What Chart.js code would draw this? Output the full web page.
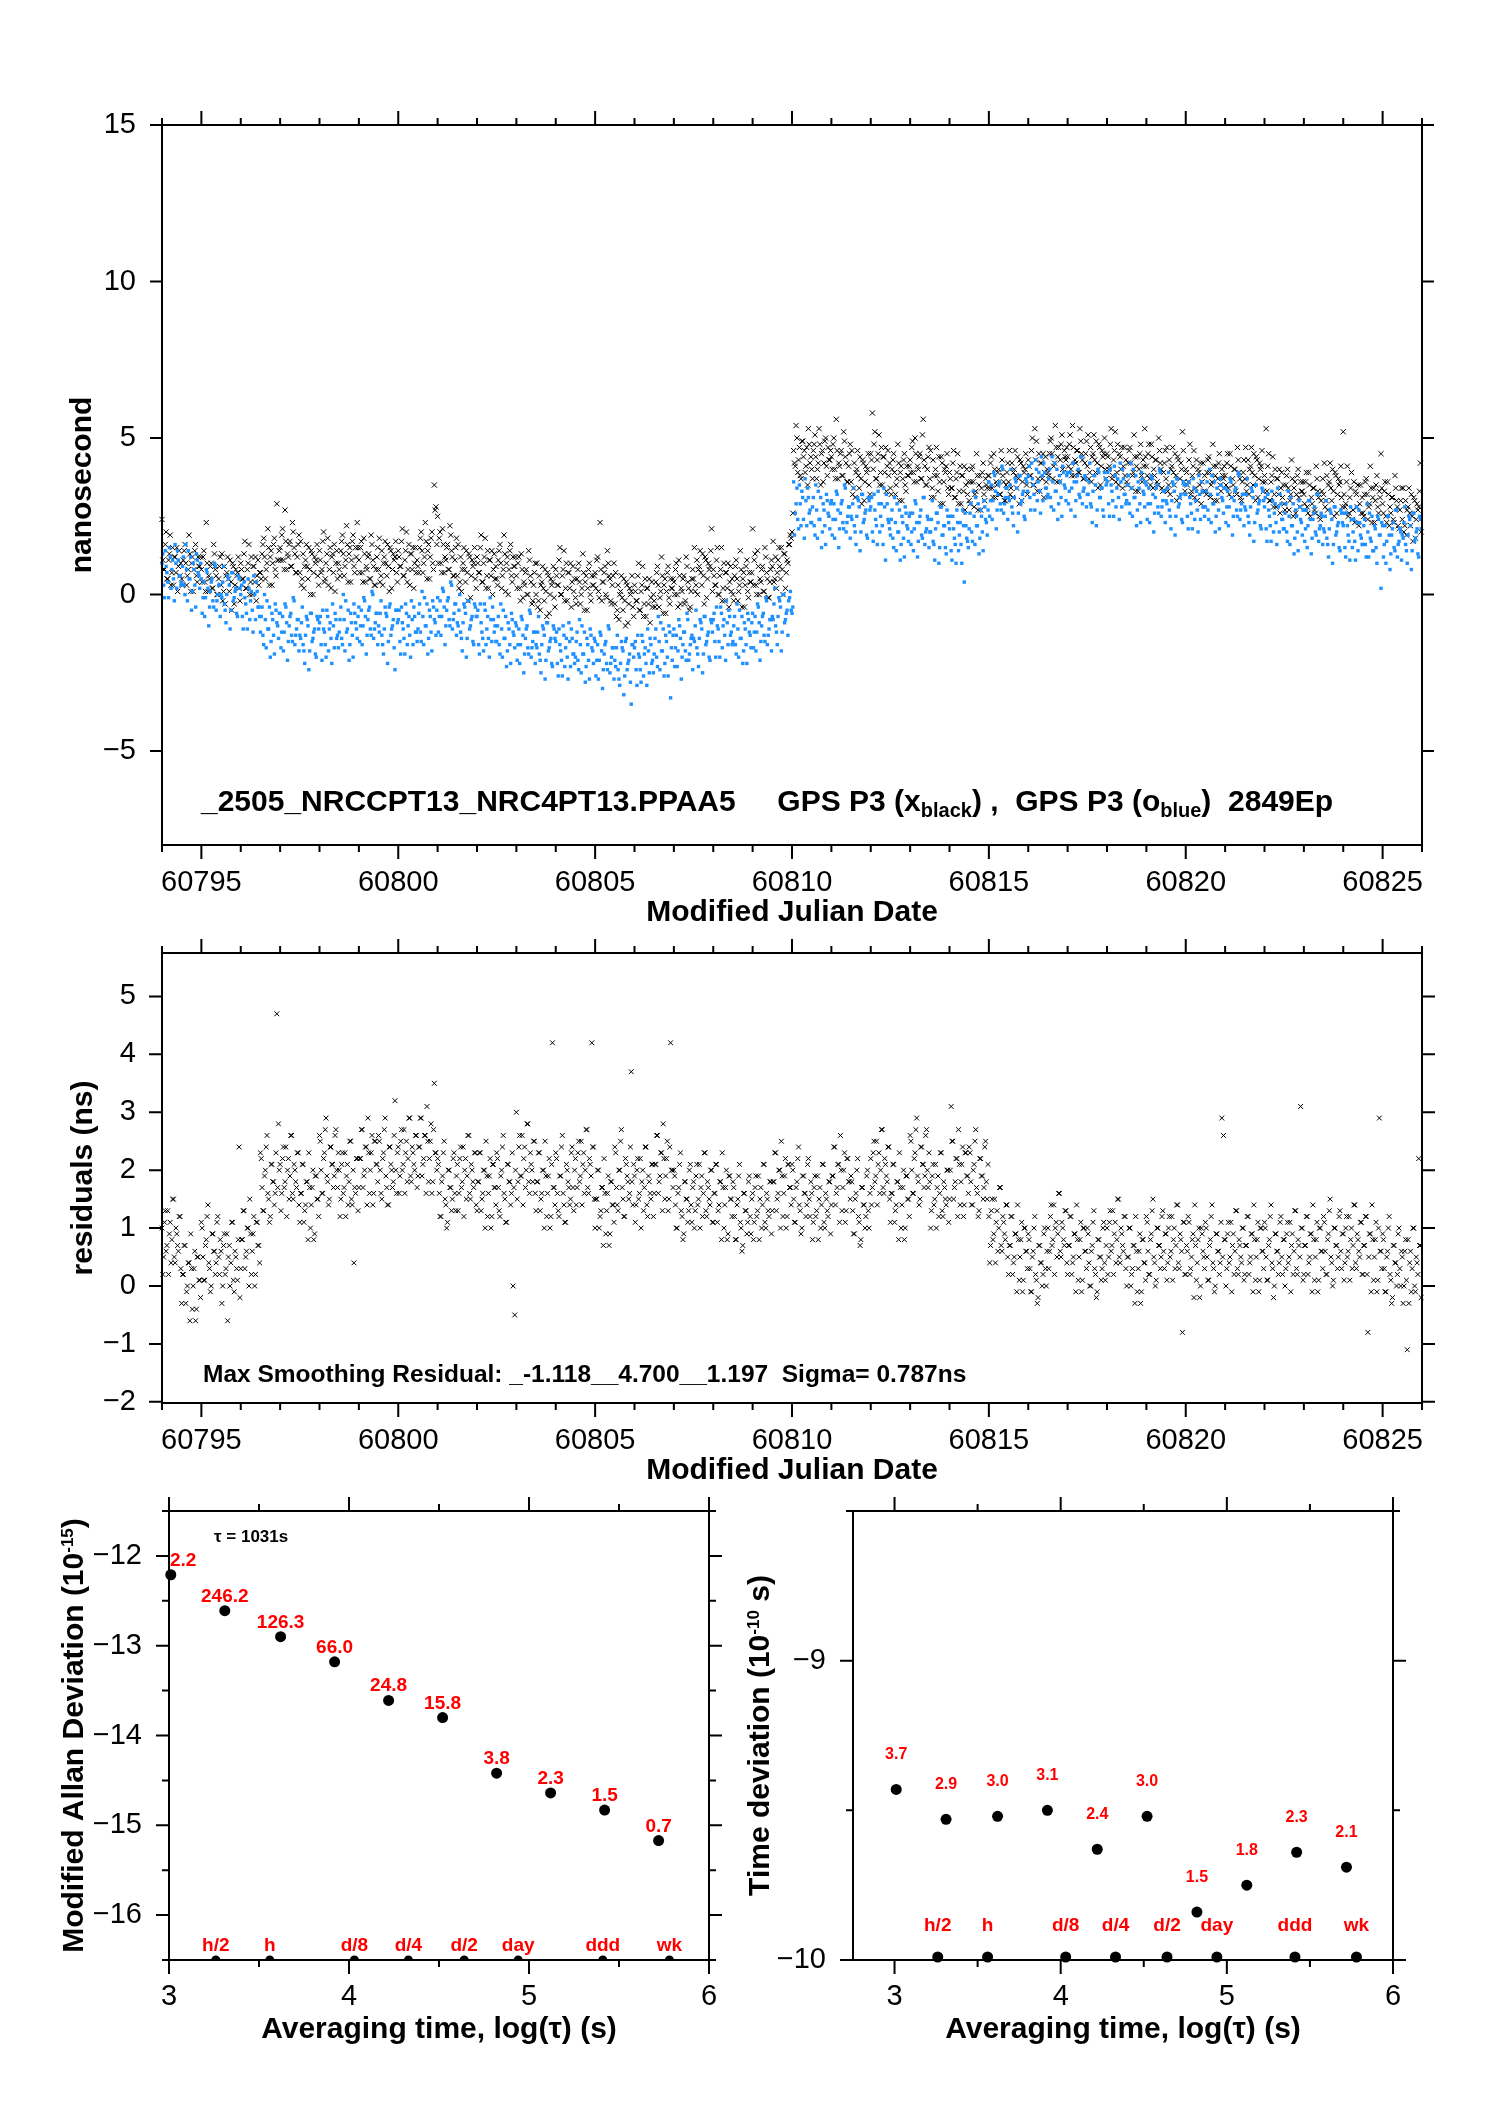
<!DOCTYPE html>
<html><head><meta charset="utf-8">
<script src="https://cdn.jsdelivr.net/npm/chart.js@4.4.1/dist/chart.umd.min.js"></script>
<style>
html,body{margin:0;padding:0;background:#fff;}
body{width:1488px;height:2105px;position:relative;overflow:hidden;}
canvas{position:absolute;}
</style></head><body>
<canvas id="c1" width="1488" height="945" style="left:0px;top:0px"></canvas>
<canvas id="c2" width="1488" height="580" style="left:0px;top:925px"></canvas>
<canvas id="c3" width="744" height="615" style="left:0px;top:1490px"></canvas>
<canvas id="c4" width="768" height="615" style="left:720px;top:1490px"></canvas>
<script>
const FONT = "'Liberation Sans', Arial, Helvetica, sans-serif";
Chart.defaults.font.family = FONT;
Chart.defaults.color = '#000';
Chart.defaults.animation = false;

// ---- epochs: hourly samples (A) and the half-hour samples in between (B) ----
const T0 = 60794, STEP = 1 / 24;

// ---- top panel: GPS P3 black (x), on-the-hour epochs ----
const blkNs = [
2.4,0.8,1.6,0.5,1.1,1.9,0.7,0.3,1.2,1.5,0.9,0.6, 0.5,1.1,1.6,0.3,0.8,1.3,1.0,0.1,1.4,0.6,1.2,0.9,
0.8,1.2,0.4,2.3,0.1,0.5,1.0,0.2,1.3,0.6,0.0,0.9, 0.3,-0.2,0.9,0.6,1.2,0.1,0.4,1.0,-0.3,0.8,0.7,0.2,
1.0,0.5,1.3,0.2,0.8,1.6,0.4,0.0,0.9,1.2,0.6,0.3, 0.7,1.3,1.8,0.5,1.0,1.5,1.2,0.3,1.6,0.8,2.9,1.1,
1.5,1.9,1.1,2.7,0.8,1.2,1.7,0.9,2.0,1.3,0.7,1.6, 0.7,0.3,1.3,0.9,1.6,0.5,0.8,1.4,0.0,1.2,1.1,0.6,
1.4,0.7,1.7,0.4,1.0,1.8,0.8,0.2,1.3,1.6,1.0,0.5, 0.8,1.4,1.9,0.6,1.1,1.6,1.3,0.4,1.7,0.9,1.5,2.3,
1.1,1.5,0.7,1.8,0.4,0.8,1.3,0.5,1.6,0.9,0.3,1.2, 0.8,0.4,1.4,1.0,1.7,0.6,0.9,1.5,0.2,1.3,1.2,0.7,
1.4,0.9,1.7,0.6,1.1,2.0,0.8,0.3,1.3,1.5,1.0,0.7, 0.9,1.5,2.0,0.7,1.2,1.7,1.4,0.5,1.8,1.0,3.5,2.8,
2.5,1.8,1.0,2.1,0.7,1.1,1.6,0.8,1.9,1.2,0.6,1.5, 0.6,0.2,1.2,0.8,1.5,0.4,0.7,1.3,-0.1,1.1,1.0,0.5,
1.2,0.7,1.5,0.4,1.0,1.8,0.6,0.2,1.1,1.4,0.8,0.5, 0.5,1.1,1.6,0.2,0.8,1.3,1.0,0.0,1.4,0.6,1.2,0.9,
0.6,1.0,0.2,1.3,-0.1,0.3,0.8,0.0,1.1,0.4,-0.2,0.7, 0.0,-0.4,0.6,0.3,0.9,-0.2,0.1,0.7,-0.6,0.5,0.4,-0.1,
0.8,0.3,1.1,0.0,0.6,1.4,0.2,-0.2,0.7,1.0,0.4,0.1, -0.1,0.5,1.0,-0.3,0.2,0.7,0.4,-0.5,0.8,0.0,0.6,0.3,
0.7,1.1,0.1,2.3,-0.2,0.4,0.9,-0.1,1.0,0.5,-0.3,0.6, -0.3,-0.7,0.3,0.0,0.6,-0.5,-0.2,0.4,-0.9,0.2,0.1,-0.4,
0.3,-0.2,0.6,-0.5,0.1,0.9,-0.3,-0.7,0.2,0.5,-0.1,-0.4, -0.2,0.4,0.9,-0.4,0.1,0.6,0.3,-0.6,0.7,-0.1,0.5,0.2,
0.4,0.8,0.0,1.1,-0.3,0.1,0.6,-0.2,0.9,0.2,-0.4,0.5, 0.5,0.1,1.1,0.8,1.4,0.3,0.6,1.2,-0.1,1.0,0.9,2.1,
0.8,0.3,1.1,0.0,0.6,1.5,0.2,-0.2,0.7,1.0,0.4,0.1, 0.0,0.6,1.1,-0.2,0.3,0.8,0.5,-0.4,0.9,0.1,0.7,0.4,
2.1,1.1,0.3,1.4,0.0,0.4,0.9,0.1,1.2,0.5,-0.1,0.8, 0.9,0.4,1.2,0.7,1.5,0.5,0.8,1.3,0.2,1.1,1.6,1.9,
2.0,4.6,4.1,5.0,4.3,3.8,4.9,4.4,3.9,4.7,5.3,4.2, 4.0,4.6,5.1,3.7,4.2,4.8,4.5,3.6,4.9,4.1,4.7,4.3,
4.4,4.8,4.0,5.6,3.7,4.1,4.6,3.8,4.9,4.2,3.6,4.5, 3.6,3.2,4.2,3.9,4.6,3.4,3.7,4.3,3.0,4.1,4.0,3.5,
4.5,5.8,4.8,3.7,4.3,5.1,3.9,3.5,4.4,4.7,4.1,3.8, 3.4,4.0,4.5,3.2,3.7,4.2,3.9,3.0,4.3,3.5,4.1,3.8,
4.3,4.7,3.9,5.0,3.6,4.0,4.5,3.7,5.6,4.1,3.5,4.4, 3.7,3.1,4.3,3.8,4.7,3.3,3.6,4.4,2.9,4.0,4.1,3.4,
3.9,3.4,4.2,3.1,3.7,4.5,3.3,2.9,3.8,4.1,3.5,3.2, 3.0,3.6,4.1,2.8,3.3,3.8,3.5,2.7,3.9,3.2,3.7,3.4,
3.8,4.2,3.4,4.5,3.1,3.5,4.0,3.2,4.3,3.6,3.0,3.9, 3.6,3.2,4.2,3.9,4.6,3.4,3.7,4.3,3.0,4.1,4.0,3.5,
4.3,3.8,4.6,3.5,5.3,4.9,3.7,3.3,4.2,4.5,3.9,3.6, 3.9,4.5,5.0,3.7,4.2,4.7,4.4,3.6,4.8,4.0,4.6,4.3,
4.4,4.8,4.0,5.4,3.8,4.2,4.6,3.9,4.9,4.3,3.7,4.5, 4.1,3.7,4.7,4.4,5.1,3.9,4.2,4.8,3.5,4.6,4.5,4.0,
4.5,4.0,4.8,3.7,4.3,5.2,3.9,3.5,4.4,4.7,4.1,3.8, 3.6,4.2,4.7,3.4,3.9,4.4,4.1,3.3,4.5,3.8,4.3,5.3,
4.1,4.5,3.7,4.8,3.4,3.8,4.3,3.5,4.6,4.0,3.3,4.2, 3.7,3.3,4.3,4.0,4.7,3.5,3.8,4.4,3.1,4.2,5.2,3.6,
4.0,3.5,4.3,3.2,3.8,4.6,3.4,3.0,3.9,4.2,3.6,3.3, 3.3,3.9,4.4,3.1,3.6,4.1,3.8,3.0,4.2,3.5,4.0,3.7,
3.8,4.2,3.4,4.5,3.1,3.5,4.0,3.2,4.3,3.7,3.0,3.9, 3.7,3.3,4.3,4.0,4.7,3.5,3.8,4.4,3.1,4.2,4.1,3.6,
3.8,5.3,4.1,3.0,3.6,4.4,3.2,2.8,3.7,4.0,3.4,3.1, 2.9,3.5,4.0,2.7,3.2,3.7,3.4,2.6,3.8,3.1,3.6,3.3,
3.2,3.6,2.8,3.9,2.5,2.9,3.4,2.6,3.7,3.1,2.4,3.3, 3.2,2.8,3.8,3.5,4.2,3.0,3.3,3.9,2.6,3.7,3.6,3.1,
5.2,2.8,3.6,2.5,3.1,3.9,2.7,2.3,3.2,3.5,2.9,2.6, 2.6,3.2,3.7,2.4,2.9,3.4,3.1,2.3,3.5,2.8,3.3,4.5,
2.9,3.3,2.5,3.6,2.2,2.6,3.1,2.3,3.4,2.8,2.1,3.0, 2.4,2.0,3.0,2.7,3.4,2.2,2.5,3.1,1.8,2.9,2.8,4.2
];
// ---- top panel: GPS P3 black (x), half-hour epochs ----
const blkNsB = [
1.1,0.8,2.0,0.5,1.3,0.3,1.5,1.2,0.7,0.1,1.4,1.0, 0.3,1.4,1.0,0.6,1.9,0.1,1.2,0.8,1.6,0.4,0.9,1.2,
0.4,1.4,0.1,1.0,0.6,0.9,0.2,1.6,0.8,0.0,0.5,1.2, 1.3,0.1,-0.3,0.7,0.5,1.1,-0.5,0.9,0.3,0.6,1.2,-0.2,
0.8,0.5,1.7,0.2,1.0,0.0,1.2,0.9,0.4,-0.2,1.1,0.7, 0.5,1.6,1.2,0.8,2.1,0.3,1.4,1.0,1.8,0.6,1.1,1.4,
1.1,2.1,0.8,1.7,1.3,1.6,0.9,2.3,1.5,0.7,1.2,1.9, 1.7,0.5,0.2,1.1,0.9,1.5,0.0,1.3,0.7,1.0,1.6,0.3,
1.1,0.8,2.0,0.5,1.3,0.3,1.5,1.2,0.7,0.1,1.4,1.0, 0.6,1.7,1.3,0.9,2.2,0.4,1.5,1.1,1.9,0.7,1.2,1.5,
0.7,1.7,0.4,1.3,0.9,1.2,0.5,1.9,1.1,0.3,0.8,1.5, 1.8,0.6,0.3,1.2,1.0,1.6,0.1,1.4,0.8,1.1,1.7,0.4,
1.2,0.9,2.1,0.6,1.4,0.4,1.6,1.3,0.8,0.2,1.5,1.1, 0.7,1.8,1.4,1.0,2.3,0.5,1.6,1.2,2.0,0.8,2.7,1.6,
1.0,2.0,0.7,1.6,1.2,1.5,0.8,2.2,1.4,0.6,1.1,1.8, 1.6,0.4,0.1,1.0,0.8,1.4,-0.2,1.2,0.6,0.9,1.5,0.2,
1.0,0.7,1.9,0.4,1.2,0.2,1.4,1.1,0.6,0.0,1.3,0.9, 0.3,1.4,1.0,0.6,1.9,0.1,1.2,0.8,1.6,0.4,0.9,1.2,
0.2,1.2,-0.2,0.8,0.4,0.7,0.0,1.4,0.6,-0.3,0.3,1.0, 1.0,-0.2,-0.5,0.4,0.2,0.8,-0.7,0.6,0.0,0.3,0.9,-0.4,
0.6,0.3,1.5,0.0,0.8,-0.2,1.0,0.7,0.2,-0.4,0.9,0.5, -0.3,0.8,0.4,0.0,1.3,-0.5,0.6,0.2,1.0,-0.2,0.3,0.6,
0.2,1.2,-0.1,0.8,0.4,0.7,0.0,1.4,0.6,-0.2,0.3,1.0, 0.7,-0.5,-0.8,0.1,-0.1,0.5,-1.0,0.3,-0.3,0.0,0.6,-0.7,
0.1,-0.2,1.0,-0.5,0.3,-0.7,0.5,0.2,-0.3,-0.9,0.4,0.0, -0.4,0.7,0.3,-0.1,1.2,-0.6,0.5,0.1,0.9,-0.3,0.2,0.5,
0.0,1.0,-0.4,0.6,0.2,0.5,-0.3,1.2,0.4,-0.5,0.1,0.8, 1.5,0.3,0.0,0.9,0.7,1.3,-0.3,1.1,0.5,0.8,1.4,0.1,
0.6,0.3,1.5,0.0,0.8,-0.2,1.0,0.7,0.2,-0.4,0.9,0.5, -0.2,0.9,0.5,0.1,1.4,-0.4,0.7,0.3,1.1,-0.1,0.4,0.7,
0.3,1.3,0.0,0.9,0.5,0.8,0.1,1.5,0.7,-0.1,0.4,1.1, 1.7,0.5,0.2,1.1,0.9,1.5,0.0,1.3,0.7,1.0,1.6,1.8,
2.6,4.2,5.4,3.9,4.7,3.7,4.9,4.6,4.1,3.5,4.8,4.4, 3.7,4.8,4.4,4.0,5.3,3.5,4.6,4.2,5.0,3.8,4.3,4.6,
4.0,5.0,3.7,4.6,4.2,4.5,3.8,5.2,4.4,3.6,4.1,4.8, 4.6,3.4,3.1,4.0,3.8,4.4,2.9,4.2,3.6,3.9,4.5,3.2,
4.3,4.0,5.2,3.7,4.5,3.5,4.7,4.4,3.9,3.3,4.6,4.2, 3.2,4.3,3.9,3.5,4.8,3.0,4.1,3.7,4.5,3.3,3.8,4.1,
3.9,4.9,3.6,4.5,4.1,4.4,3.7,5.1,4.3,3.5,4.0,4.7, 4.6,3.4,3.1,4.0,3.8,4.4,2.9,4.2,3.6,3.9,4.5,3.2,
3.7,3.4,4.6,3.1,3.9,2.9,4.1,3.8,3.3,2.7,4.0,3.6, 2.9,4.0,3.6,3.2,4.5,2.7,3.8,3.4,4.2,3.0,3.5,3.8,
3.4,4.4,3.1,4.0,3.6,3.9,3.2,4.6,3.8,3.0,3.5,4.2, 4.6,3.4,3.1,4.0,3.8,4.4,2.9,4.2,3.6,3.9,4.5,3.2,
4.1,3.8,5.0,3.5,4.3,3.3,4.5,4.2,3.7,3.1,4.4,4.0, 3.8,4.9,4.5,4.1,5.4,3.6,4.7,4.3,5.1,3.9,4.4,4.7,
4.1,5.1,3.8,4.7,4.3,4.6,3.9,5.3,4.5,3.7,4.2,4.9, 5.1,3.9,3.6,4.5,4.3,4.9,3.4,4.7,4.1,4.4,5.0,3.7,
4.4,4.1,5.3,3.8,4.6,3.6,4.8,4.5,4.0,3.4,4.7,4.3, 3.5,4.6,4.2,3.8,5.1,3.3,4.4,4.0,4.8,3.6,4.1,4.4,
3.8,4.8,3.5,4.4,4.0,4.3,3.6,5.0,4.2,3.4,3.9,4.6, 4.7,3.5,3.2,4.1,3.9,4.5,3.0,4.3,3.7,4.0,4.6,3.3,
3.9,3.6,4.8,3.3,4.1,3.1,4.3,4.0,3.5,2.9,4.2,3.8, 3.2,4.3,3.9,3.5,4.8,3.0,4.1,3.7,4.5,3.3,3.8,4.1,
3.5,4.5,3.2,4.1,3.7,4.0,3.3,4.7,3.9,3.1,3.6,4.3, 4.7,3.5,3.2,4.1,3.9,4.5,3.0,4.3,3.7,4.0,4.6,3.3,
3.6,3.3,4.5,3.0,3.8,2.8,4.0,3.7,3.2,2.6,3.9,3.5, 2.7,3.8,3.4,3.0,4.3,2.5,3.6,3.2,4.0,2.8,3.3,3.6,
2.9,3.9,2.6,3.5,3.1,3.4,2.7,4.1,3.3,2.5,3.0,3.7, 4.2,3.0,2.7,3.6,3.4,4.0,2.5,3.8,3.2,3.5,4.1,2.8,
3.2,2.9,4.1,2.6,3.4,2.4,3.6,3.3,2.8,2.2,3.5,3.1, 2.5,3.6,3.2,2.8,4.1,2.3,3.4,3.0,3.8,2.6,3.1,3.4,
2.6,3.6,2.3,3.2,2.8,3.1,2.4,3.8,3.0,2.2,2.7,3.4, 3.4,2.2,1.9,2.8,2.6,3.2,1.7,3.0,2.4,2.7,3.3,2.0
];

// ---- top panel: GPS P3 blue (o), on-the-hour epochs ----
const bluNs = [
1.0,0.3,1.4,0.7,-0.1,1.2,0.8,0.5,1.6,0.2,1.1,0.6, 0.4,1.2,0.0,0.8,1.4,0.5,-0.5,1.0,0.3,1.3,0.7,0.2,
0.5,-0.1,-0.7,0.8,0.2,-0.4,0.4,-0.2,1.0,-0.5,0.0,0.3, 0.0,0.4,-0.3,-0.9,0.6,0.3,-0.5,0.7,-0.1,0.2,-0.7,0.5,
0.0,-0.7,0.4,-0.3,-1.1,0.2,-0.2,-0.5,0.6,-0.8,0.1,-0.4, -1.2,-0.4,-1.6,-0.8,-0.2,-1.1,-2.0,-0.6,-1.3,-0.3,-0.9,-1.4,
-0.6,-1.2,-1.8,-0.3,-0.9,-1.5,-0.7,-1.3,-0.1,-1.6,-1.1,-0.8, -1.3,-0.9,-1.6,-2.2,-0.7,-1.0,-1.8,-0.6,-1.4,-1.1,-2.0,-0.8,
-0.9,-1.6,-0.5,-1.2,-2.0,-0.7,-1.1,-1.4,-0.3,-1.7,-0.8,-1.3, -1.2,-0.4,-1.6,-0.8,-0.2,-1.1,-2.1,-0.6,-1.3,-0.3,-0.9,-1.4,
-0.4,-1.0,-1.6,-0.1,-0.7,-1.3,-0.5,-1.1,0.1,-1.4,-0.9,-0.6, -1.0,-0.6,-1.3,-1.9,-0.4,-0.7,-1.5,-0.3,-1.1,-0.8,-2.4,-0.5,
-0.8,-1.5,-0.4,-1.1,-1.9,-0.6,-1.0,-1.3,-0.2,-1.6,-0.7,-1.2, -1.1,-0.3,-1.5,-0.7,-0.1,-1.0,-1.9,-0.5,-1.2,-0.2,-0.8,-1.3,
-0.1,-0.7,-1.3,0.2,-0.4,-1.0,-0.2,-0.8,0.4,-1.1,-0.6,-0.3, -0.9,-0.5,-1.2,-1.8,-0.3,-0.6,-1.4,-0.2,-1.0,-0.7,-1.6,-0.4,
-0.7,-1.6,-0.3,-1.2,-1.8,-0.5,-1.1,-1.4,-0.1,-1.5,-0.8,-1.0, -1.5,-0.7,-1.9,-1.1,-0.5,-1.4,-2.3,-0.9,-1.6,-0.6,-1.2,-1.7,
-1.0,-1.6,-2.2,-0.7,-1.3,-1.9,-1.1,-1.7,-0.5,-2.0,-1.5,-1.2, -1.6,-1.2,-1.9,-2.5,-1.0,-1.3,-2.1,-0.9,-1.7,-1.4,-2.3,-1.1,
-1.5,-2.2,-1.1,-1.8,-2.6,-1.3,-1.7,-2.0,-0.9,-2.3,-1.4,-1.9, -2.0,-1.2,-2.4,-1.6,-1.0,-1.9,-2.8,-1.4,-2.1,-1.1,-1.7,-2.2,
-1.5,-2.1,-2.7,-1.2,-1.8,-2.4,-1.6,-2.2,-1.0,-2.5,-2.0,-1.7, -2.1,-1.7,-2.4,-2.9,-1.5,-1.8,-2.6,-1.4,-2.2,-1.9,-3.5,-1.6,
-1.7,-2.4,-1.3,-2.0,-2.8,-1.5,-1.9,-2.2,-1.1,-2.5,-1.6,-2.1, -1.9,-1.1,-2.3,-1.5,-0.9,-1.8,-2.6,-1.3,-2.0,-1.0,-3.3,-2.1,
-1.1,-1.7,-2.3,-0.8,-1.4,-2.0,-1.2,-1.8,-0.6,-2.1,-1.6,-1.3, -1.4,-1.0,-1.7,-2.3,-0.8,-1.1,-1.9,-0.7,-1.5,-1.2,-2.1,-0.9,
-0.8,-1.5,-0.4,-1.1,-2.0,-0.6,-1.0,-1.3,-0.2,-1.6,-0.7,-1.2, -1.5,-0.7,-1.9,-1.1,-0.5,-1.4,-2.2,-0.9,-1.6,-0.6,-1.2,-1.7,
-0.6,-1.2,-1.8,-0.3,-0.9,-1.5,-0.7,-1.3,-0.1,-1.6,-1.1,-0.8, -0.7,-0.3,-1.0,-1.6,-0.1,-0.4,-1.2,0.0,-0.8,-0.5,-0.2,0.1,
-0.6,3.6,2.6,3.4,2.1,2.9,3.3,2.4,3.7,2.2,3.1,2.7, 2.3,3.1,1.9,2.7,3.3,2.4,1.5,2.9,2.2,3.2,2.6,2.1,
3.0,2.4,1.8,3.3,2.7,2.1,2.9,2.3,3.5,2.0,2.5,2.8, 2.5,2.9,2.2,1.6,3.1,2.8,2.0,3.2,2.4,2.7,1.8,3.0,
2.8,2.0,3.2,2.4,1.6,2.9,2.5,2.2,3.4,1.1,2.9,2.3, 1.9,2.7,1.5,2.3,2.9,2.0,1.1,2.5,1.8,2.8,2.2,1.7,
2.6,2.0,1.4,3.0,2.3,1.7,2.5,1.9,3.1,1.6,2.1,2.4, 2.0,2.4,1.7,1.1,2.6,2.3,1.5,2.8,1.9,2.2,1.3,2.5,
2.1,1.4,2.5,1.8,1.0,2.3,1.9,1.6,2.7,0.4,2.2,1.7, 2.1,2.9,1.7,2.5,3.1,2.2,1.3,2.7,2.0,3.0,2.4,1.9,
3.6,3.0,2.4,3.9,3.3,2.7,3.5,2.9,4.1,2.6,3.1,3.4, 3.1,3.5,2.8,2.2,3.7,3.4,2.6,3.8,3.0,3.3,2.4,3.6,
3.8,3.1,4.2,3.5,2.7,4.0,3.6,3.3,4.4,3.0,3.9,3.4, 3.2,4.0,2.8,3.6,4.2,3.3,2.4,3.8,3.1,4.1,3.5,3.0,
3.9,3.3,2.7,4.2,3.6,3.0,3.8,3.2,4.4,2.9,3.4,3.7, 3.2,3.6,2.9,2.3,3.8,3.5,2.7,3.9,3.1,3.4,2.5,3.7,
3.6,2.9,4.0,3.3,2.5,3.8,3.4,3.1,4.2,2.8,3.7,3.2, 3.0,3.8,2.6,3.4,4.0,3.1,2.2,3.6,2.9,3.9,3.3,2.8,
3.5,2.9,2.3,3.8,3.2,2.6,3.4,2.8,4.0,2.5,3.0,3.3, 3.0,3.4,2.7,2.1,3.6,3.3,2.5,3.7,2.9,3.2,2.3,3.5,
3.2,2.5,3.6,2.9,2.1,3.4,3.0,2.7,3.8,2.4,3.3,2.8, 2.8,3.6,2.4,3.2,3.8,2.9,2.0,3.4,2.7,3.7,3.1,2.6,
3.4,2.8,2.2,3.7,3.1,2.5,3.3,2.7,3.9,2.4,2.9,3.2, 2.8,3.2,2.5,1.9,3.4,3.1,2.3,3.5,2.7,3.0,2.1,3.3,
2.8,2.1,3.2,2.5,1.7,3.0,2.6,2.3,3.4,2.0,2.9,2.4, 2.1,2.9,1.7,2.5,3.1,2.2,1.3,2.7,2.0,3.0,2.4,1.9,
2.7,2.1,1.5,3.0,2.4,1.8,2.6,2.0,3.2,1.7,2.2,2.5, 2.1,2.5,1.8,1.2,2.7,2.4,1.6,2.8,2.0,2.3,1.4,2.6,
2.2,1.5,2.6,1.9,1.1,2.4,2.0,1.7,2.8,1.4,2.3,1.8, 1.6,2.4,1.2,2.0,2.6,1.7,1.4,2.2,1.5,2.5,1.9,0.2,
2.2,1.6,1.0,2.5,1.9,1.3,2.1,1.5,2.7,1.2,1.7,2.0, 1.9,2.3,1.6,1.0,2.5,2.2,1.4,2.6,1.8,2.1,1.2,2.4
];
// ---- top panel: GPS P3 blue (o), half-hour epochs ----
const bluNsB = [
1.3,-0.1,0.9,0.4,1.5,0.2,1.1,-0.2,1.0,1.4,0.6,0.3, 0.9,0.3,1.6,-0.2,0.5,1.2,0.1,0.8,-0.4,1.1,0.6,1.0,
-0.6,0.4,-0.1,0.7,-1.0,0.1,0.5,-0.4,0.9,-0.2,0.3,-0.7, -0.1,0.9,-0.5,0.0,0.5,-1.1,0.7,-0.2,0.1,-0.6,0.6,0.2,
0.3,-1.1,-0.1,-0.6,0.5,-0.8,0.1,-1.2,0.0,0.4,-0.4,-0.7, -0.7,-1.3,0.0,-1.7,-1.1,-0.4,-1.5,-0.8,-1.9,-0.5,-1.0,-0.6,
-1.7,-0.7,-1.2,-0.4,-2.1,-1.0,-0.6,-1.5,-0.2,-1.3,-0.8,-1.8, -1.4,-0.4,-1.8,-1.3,-0.8,-2.4,-0.6,-1.5,-1.2,-1.9,-0.7,-1.1,
-0.7,-2.1,-1.1,-1.6,-0.5,-1.8,-0.9,-2.2,-1.0,-0.6,-1.4,-1.7, -0.8,-1.4,0.0,-1.8,-1.2,-0.5,-1.6,-0.9,-2.0,-0.6,-1.1,-0.7,
-1.5,-0.5,-1.0,-0.2,-1.9,-0.8,-0.4,-1.3,0.0,-1.1,-0.6,-1.6, -1.2,-0.2,-1.6,-1.1,-0.6,-2.2,-0.4,-1.3,-1.0,-1.7,-0.5,-0.9,
-0.5,-1.9,-0.9,-1.4,-0.3,-1.6,-0.7,-2.0,-0.8,-0.4,-1.2,-1.5, -0.6,-1.2,0.1,-1.6,-1.0,-0.3,-1.4,-0.7,-1.8,-0.4,-0.9,-0.5,
-1.2,-0.2,-0.7,0.1,-1.6,-0.5,-0.1,-1.0,0.3,-0.8,-0.3,-1.3, -1.0,0.0,-1.4,-0.9,-0.4,-2.0,-0.2,-1.1,-0.8,-1.5,-0.3,-0.7,
-0.5,-1.9,-0.9,-1.4,-0.3,-1.6,-0.7,-2.0,-0.8,-0.4,-1.2,-1.5, -1.0,-1.6,-0.3,-2.0,-1.4,-0.7,-1.8,-1.1,-2.2,-0.8,-1.3,-0.9,
-2.1,-1.1,-1.6,-0.8,-2.5,-1.4,-1.0,-1.9,-0.6,-1.7,-1.2,-2.2, -1.7,-0.7,-2.1,-1.6,-1.1,-2.7,-0.9,-1.8,-1.5,-2.2,-1.0,-1.4,
-1.2,-2.6,-1.6,-2.1,-1.0,-2.3,-1.4,-2.7,-1.5,-1.1,-1.9,-2.2, -1.5,-2.1,-0.8,-2.5,-1.9,-1.2,-2.3,-1.6,-2.7,-1.3,-1.8,-1.4,
-2.6,-1.6,-2.1,-1.3,-3.0,-1.9,-1.5,-2.4,-1.1,-2.2,-1.7,-2.7, -2.3,-1.3,-2.7,-2.2,-1.7,-3.2,-1.5,-2.4,-2.1,-2.8,-1.6,-2.0,
-1.5,-2.9,-1.9,-2.4,-1.3,-2.6,-1.7,-2.9,-1.8,-1.4,-2.2,-2.5, -1.4,-2.0,-0.7,-2.4,-1.8,-1.1,-2.2,-1.5,-2.6,-1.2,-1.7,-1.3,
-2.3,-1.3,-1.8,-1.0,-2.7,-1.6,-1.2,-2.1,-0.8,-1.9,-1.4,-2.4, -1.5,-0.5,-1.9,-1.4,-0.9,-2.5,-0.7,-1.6,-1.3,-2.0,-0.8,-1.2,
-0.6,-2.0,-1.0,-1.5,-0.4,-1.7,-0.8,-2.1,-0.9,-0.5,-1.3,-1.6, -1.0,-1.6,-0.3,-2.0,-1.4,-0.7,-1.8,-1.1,-2.2,-0.8,-1.3,-0.9,
-1.7,-0.7,-1.2,-0.4,-2.1,-1.0,-0.6,-1.5,-0.2,-1.3,-0.8,-1.8, -0.8,0.2,-1.2,-0.7,-0.2,-1.8,0.0,-0.9,-0.6,-1.3,-0.1,-0.5,
-0.4,1.9,2.9,2.4,3.5,2.2,3.1,1.8,3.0,3.4,2.6,2.3, 2.8,2.2,3.5,1.8,2.4,3.1,2.0,2.7,1.6,3.0,2.5,2.9,
1.9,2.9,2.4,3.2,1.5,2.6,3.0,2.1,3.4,2.3,2.8,1.8, 2.4,3.4,2.0,2.5,3.0,1.4,3.2,2.3,2.6,1.9,3.1,2.7,
3.1,1.7,2.7,2.2,3.3,2.0,2.9,1.6,2.8,3.2,2.4,2.1, 2.4,1.8,3.1,1.4,2.0,2.7,1.6,2.3,1.2,2.6,2.1,2.5,
1.6,2.6,2.1,2.9,1.2,2.3,2.7,1.8,3.1,2.0,2.5,1.5, 2.0,3.0,1.6,2.1,2.6,1.0,2.8,1.9,2.2,1.5,2.7,2.3,
2.5,1.1,2.1,1.6,2.7,1.4,2.3,1.0,2.2,2.6,1.8,1.5, 2.6,2.0,3.3,1.6,2.2,2.9,1.8,2.5,1.4,2.8,2.3,2.7,
2.5,3.5,3.0,3.8,2.1,3.2,3.6,2.7,4.0,2.9,3.4,2.4, 3.0,4.0,2.6,3.1,3.6,2.0,3.8,2.9,3.2,2.5,3.7,3.3,
4.1,2.7,3.7,3.2,4.3,3.0,3.9,2.6,3.8,4.2,3.4,3.1, 3.7,3.1,4.4,2.7,3.3,4.0,2.9,3.6,2.5,3.9,3.4,3.8,
2.9,3.9,3.4,4.2,2.5,3.6,4.0,3.1,4.4,3.3,3.8,2.8, 3.2,4.2,2.8,3.3,3.8,2.2,4.0,3.1,3.4,2.7,3.9,3.5,
3.9,2.5,3.5,3.0,4.1,2.8,3.7,2.4,3.6,4.0,3.2,2.9, 3.5,2.9,4.2,2.5,3.1,3.8,2.7,3.4,2.3,3.7,3.2,3.6,
2.4,3.4,2.9,3.7,2.0,3.1,3.5,2.6,3.9,2.8,3.3,2.3, 2.9,3.9,2.5,3.0,3.5,1.9,3.7,2.8,3.1,2.4,3.6,3.2,
3.5,2.1,3.1,2.6,3.7,2.4,3.3,2.0,3.2,3.6,2.8,2.5, 3.3,2.7,4.0,2.3,2.9,3.6,2.5,3.2,2.1,3.5,3.0,3.4,
2.3,3.3,2.8,3.6,1.9,3.0,3.4,2.5,3.8,2.7,3.2,2.2, 2.7,3.7,2.3,2.8,3.3,1.7,3.5,2.6,2.9,2.2,3.4,3.0,
3.1,1.7,2.7,2.2,3.3,2.0,2.9,1.6,2.8,3.2,2.4,2.1, 2.6,2.0,3.3,1.6,2.2,2.9,1.8,2.5,1.4,2.8,2.3,2.7,
1.7,2.7,2.2,3.0,1.3,2.4,2.8,1.9,3.2,2.1,2.6,1.6, 2.0,3.0,1.6,2.1,2.6,1.0,2.8,1.9,2.2,1.5,2.7,2.3,
2.6,1.2,2.2,1.7,2.8,1.5,2.4,1.1,2.3,2.7,1.9,1.6, 2.2,1.6,2.9,1.2,1.8,2.5,1.4,2.1,1.0,2.4,1.9,2.3,
1.2,2.2,1.7,2.5,0.8,1.9,2.3,1.4,2.7,1.6,2.1,1.1, 1.8,2.8,1.4,1.9,2.4,0.8,2.6,1.7,2.0,1.3,2.5,2.1
];

// ---- middle panel: smoothing residuals (ns), on-the-hour epochs ----
const resNs = [
1.0,0.5,1.3,0.7,0.2,1.1,0.8,1.5,0.4,0.9,0.6,1.2, -0.3,0.2,0.7,-0.1,0.4,-0.6,0.3,0.0,0.6,-0.4,0.5,0.1,
1.1,0.5,0.1,0.8,1.4,0.3,0.0,0.9,0.6,0.4,1.2,0.2, 0.6,0.0,0.9,0.3,-0.6,0.7,0.4,1.1,-0.1,0.5,0.1,2.4,
0.3,0.8,1.3,0.5,1.0,0.0,0.9,0.6,1.2,0.2,1.1,0.7, 2.3,1.7,1.3,2.0,2.6,1.5,1.2,2.1,1.8,1.6,4.7,2.8,
2.1,1.6,2.4,1.8,1.2,2.2,1.9,2.6,1.5,2.0,1.7,2.3, 1.1,1.6,2.1,1.3,1.8,0.8,1.7,1.4,2.0,0.9,1.9,1.5,
2.6,2.0,1.6,2.3,2.9,1.8,1.5,2.4,2.1,1.9,2.7,1.7, 2.0,1.5,2.3,1.7,1.2,2.1,1.8,2.5,1.4,0.4,1.6,2.2,
1.7,2.2,2.7,1.9,2.4,1.4,2.3,2.0,2.6,1.6,2.5,2.1, 2.6,2.0,1.5,2.3,2.9,1.7,1.4,2.4,2.0,1.8,3.2,1.6,
2.4,1.9,2.7,2.1,1.6,2.5,2.2,2.9,1.8,2.3,2.0,2.6, 1.9,2.4,2.9,2.1,2.6,1.6,2.5,2.2,2.8,1.8,3.5,2.3,
2.2,1.6,1.2,1.9,2.5,1.4,1.1,2.0,1.7,1.5,2.3,1.3, 2.1,1.6,2.4,1.8,1.2,2.2,1.9,2.6,1.5,2.0,1.7,2.3,
1.3,1.8,2.3,1.5,2.0,1.0,1.9,1.6,2.2,1.2,2.1,1.7, 2.3,1.7,1.2,2.0,2.6,1.5,1.1,2.1,1.8,1.6,0.0,-0.5,
3.0,1.8,2.6,1.9,1.4,2.4,2.0,2.8,1.6,2.1,1.8,2.5, 1.3,1.8,2.3,1.5,2.0,1.0,1.9,1.6,2.2,1.2,4.2,1.7,
2.3,1.6,1.2,1.9,2.6,1.4,1.1,2.0,1.7,1.5,2.4,1.3, 2.2,1.7,2.5,1.9,1.4,2.3,2.0,2.7,1.6,2.1,4.2,2.4,
1.0,1.5,2.0,1.2,1.7,0.7,1.6,1.3,1.9,0.9,1.8,1.4, 2.4,1.7,1.3,2.0,2.7,1.5,1.2,2.1,1.8,1.6,3.7,1.4,
1.9,1.4,2.2,1.6,1.0,2.0,1.7,2.4,1.2,1.8,1.5,2.1, 1.6,2.1,2.6,1.8,2.3,1.3,2.2,1.9,2.5,1.5,4.2,2.0,
2.0,1.4,1.0,1.7,2.3,1.2,0.9,1.8,1.5,1.3,2.1,1.1, 1.8,1.3,2.1,1.5,1.0,1.9,1.6,2.3,1.2,1.7,1.4,2.0,
1.1,1.6,2.1,1.3,1.8,0.8,1.7,1.4,2.0,0.9,1.9,1.5, 1.8,1.2,0.8,1.5,2.1,1.0,0.7,1.6,1.3,1.1,1.9,0.9,
1.6,1.1,1.9,1.3,0.8,1.7,1.4,2.1,1.0,1.5,1.2,1.8, 1.3,1.8,2.3,1.5,2.0,1.0,1.9,1.6,2.2,1.2,2.1,1.7,
2.1,1.5,1.1,1.8,2.4,1.3,1.0,1.9,1.6,1.4,2.2,1.2, 1.6,1.1,1.9,1.3,0.8,1.7,1.4,2.1,1.0,1.5,1.2,1.8,
1.4,1.9,2.4,1.6,2.1,1.1,2.0,1.7,2.3,1.3,2.2,1.8, 1.9,1.3,0.9,1.6,2.2,1.1,0.8,1.7,1.4,1.2,2.0,1.0,
2.2,1.7,2.5,1.9,1.4,2.3,2.0,2.7,1.6,2.1,1.8,2.4, 1.1,1.6,2.1,1.3,1.8,0.8,1.7,1.4,2.0,1.0,1.9,1.5,
2.6,2.0,1.6,2.3,2.9,1.8,1.5,2.4,2.1,1.9,2.7,1.7, 1.8,1.3,2.1,1.5,1.0,1.9,1.6,2.3,1.2,1.7,1.4,2.0,
1.5,3.1,2.5,1.7,2.2,1.2,2.1,1.8,2.4,1.4,2.3,1.9, 2.4,1.8,1.4,2.1,2.7,1.6,1.3,2.2,1.9,1.7,2.5,1.5,
1.2,0.7,1.5,0.9,0.4,1.3,1.0,1.7,0.6,1.1,0.8,1.4, 0.2,0.7,1.2,0.4,0.9,-0.1,0.8,0.5,1.1,0.1,1.0,0.6,
0.9,0.3,-0.1,0.6,1.2,0.1,-0.2,0.7,0.4,0.2,1.0,0.0, 1.0,0.6,1.4,0.8,0.2,1.1,0.9,1.6,0.5,1.0,0.7,1.3,
0.2,0.7,1.2,0.4,0.9,-0.1,0.8,0.5,1.1,0.1,1.0,0.6, 1.0,0.4,0.0,0.7,1.3,0.2,-0.1,0.8,0.5,0.3,1.1,0.1,
1.0,0.5,1.3,0.7,0.2,1.1,0.8,1.5,0.4,0.9,0.6,1.2, 0.0,0.5,1.0,0.2,0.7,-0.3,0.6,0.3,0.9,-0.1,0.8,0.4,
1.2,0.6,0.2,0.9,1.5,0.4,0.1,1.0,0.7,0.5,1.3,0.3, 0.9,0.4,1.2,0.6,0.1,1.0,0.7,1.4,0.3,0.8,-0.8,1.1,
0.2,0.6,1.1,0.3,0.8,-0.2,0.7,0.4,1.0,0.0,0.9,0.5, 1.1,0.5,0.1,0.8,1.4,0.3,0.0,0.9,0.6,0.4,2.9,2.6,
0.8,0.3,1.1,0.5,-0.1,0.9,0.6,1.3,0.2,0.7,0.4,1.0, 0.2,0.7,1.2,0.4,0.9,-0.1,0.8,0.5,1.1,0.1,1.0,0.6,
1.1,0.5,0.1,0.8,1.4,0.3,0.0,0.9,0.6,0.4,1.2,0.2, 0.8,0.3,1.1,0.5,-0.1,0.9,0.6,1.3,0.2,0.7,3.1,1.0,
0.2,0.7,1.2,0.4,0.9,-0.1,0.8,0.5,1.1,0.1,1.0,0.6, 1.2,0.6,0.2,0.9,1.5,0.4,0.1,1.0,0.7,0.5,1.3,0.3,
0.9,0.4,1.2,0.6,0.1,1.0,0.7,1.4,0.3,0.8,0.5,1.1, 0.2,0.7,1.2,-0.8,0.9,-0.1,0.8,0.5,1.1,0.1,2.9,0.6,
0.9,0.3,-0.1,0.6,1.2,0.1,-0.2,0.7,0.4,0.2,1.0,0.0, 0.5,0.0,0.8,-1.1,-0.3,0.6,0.3,1.0,-0.1,0.4,2.2,0.7
];
// ---- middle panel: smoothing residuals (ns), half-hour epochs ----
const resNsB = [
0.2,1.1,0.6,1.3,0.9,0.4,1.5,0.5,1.0,0.7,1.2,0.3, 0.2,0.7,-0.3,0.0,0.4,0.9,-0.4,0.3,-0.6,0.5,0.1,-0.2,
1.0,0.1,0.7,1.2,0.4,-0.1,0.9,0.6,0.2,1.1,0.5,0.8, -0.3,0.7,0.2,0.9,0.5,0.0,1.1,0.1,0.6,0.3,0.8,-0.2,
0.8,1.3,0.3,0.6,1.0,1.5,0.2,0.9,0.0,1.1,0.7,0.4, 2.2,1.3,1.9,2.4,1.6,1.1,2.1,1.8,1.4,2.3,1.7,2.0,
1.3,2.2,1.7,2.4,2.0,1.5,2.6,1.6,2.1,1.8,2.3,1.4, 1.6,2.1,1.1,1.4,1.8,2.3,1.0,1.7,0.8,1.9,1.5,1.2,
2.5,1.6,2.2,2.7,1.9,1.4,2.4,2.1,1.7,2.6,2.0,2.3, 1.2,2.1,1.6,2.3,1.9,1.4,2.5,1.5,2.0,1.7,2.2,1.3,
2.2,2.7,1.7,2.0,2.4,2.9,1.6,2.3,1.4,2.5,2.1,1.8, 2.5,1.6,2.2,2.7,1.9,1.4,2.4,2.1,1.7,2.6,2.0,2.3,
1.6,2.5,2.0,2.7,2.3,1.8,2.9,1.9,2.4,2.1,2.6,1.7, 2.4,2.9,1.9,2.2,2.6,3.1,1.8,2.5,1.6,2.7,2.3,2.0,
2.1,1.2,1.8,2.3,1.5,1.0,2.0,1.7,1.3,2.2,1.6,1.9, 1.3,2.2,1.7,2.4,2.0,1.5,2.6,1.6,2.1,1.8,2.3,1.4,
1.8,2.3,1.3,1.6,2.0,2.5,1.2,1.9,1.0,2.1,1.7,1.4, 2.2,1.3,1.9,2.4,1.6,1.1,2.1,1.8,1.4,2.3,1.7,2.0,
1.5,2.4,1.9,2.6,2.2,1.7,2.8,1.8,2.3,2.0,2.5,1.6, 1.8,2.3,1.3,1.6,2.0,2.5,1.2,1.9,1.0,2.1,1.7,1.4,
2.2,1.3,1.9,2.4,1.6,1.1,2.1,1.8,1.4,2.3,1.7,2.0, 1.4,2.3,1.8,2.5,2.1,1.6,2.7,1.7,2.2,1.9,2.4,1.5,
1.5,2.0,1.0,1.3,1.7,2.2,0.9,1.6,0.7,1.8,1.4,1.1, 2.3,1.4,2.0,2.5,1.7,1.2,2.2,1.9,1.5,2.4,1.8,2.1,
1.1,2.0,1.5,2.2,1.8,1.3,2.4,1.4,1.9,1.6,2.1,1.2, 2.1,2.6,1.6,1.9,2.3,2.8,1.5,2.2,1.3,2.4,2.0,1.7,
1.9,1.0,1.6,2.1,1.3,0.8,1.8,1.5,1.1,2.0,1.4,1.7, 1.0,1.9,1.4,2.1,1.7,1.2,2.3,1.3,1.8,1.5,2.0,1.1,
1.6,2.1,1.1,1.4,1.8,2.3,1.0,1.7,0.8,1.9,1.5,1.2, 1.7,0.8,1.4,1.9,1.1,0.6,1.6,1.3,0.9,1.8,1.2,1.5,
0.8,1.7,1.2,1.9,1.5,1.0,2.1,1.1,1.6,1.3,1.8,0.9, 1.8,2.3,1.3,1.6,2.0,2.5,1.2,1.9,1.0,2.1,1.7,1.4,
2.0,1.1,1.7,2.2,1.4,0.9,1.9,1.6,1.2,2.1,1.5,1.8, 0.8,1.7,1.2,1.9,1.5,1.0,2.1,1.1,1.6,1.3,1.8,0.9,
1.9,2.4,1.4,1.7,2.1,2.6,1.3,2.0,1.1,2.2,1.8,1.5, 1.8,0.9,1.5,2.0,1.2,0.7,1.7,1.4,1.0,1.9,1.3,1.6,
1.4,2.3,1.8,2.5,2.1,1.6,2.7,1.7,2.2,1.9,2.4,1.5, 1.6,2.1,1.1,1.4,1.8,2.3,1.0,1.7,0.8,1.9,1.5,1.2,
2.5,1.6,2.2,2.7,1.9,1.4,2.4,2.1,1.7,2.6,2.0,2.3, 1.0,1.9,1.4,2.1,1.7,1.2,2.3,1.3,1.8,1.5,2.0,1.1,
2.0,2.5,1.5,1.8,2.2,2.7,1.4,2.1,1.2,2.3,1.9,1.6, 2.3,1.4,2.0,2.5,1.7,1.2,2.2,1.9,1.5,2.4,1.8,2.1,
0.4,1.3,0.8,1.5,1.1,0.6,1.7,0.7,1.2,0.9,1.4,0.5, 0.7,1.2,0.2,0.5,0.9,1.4,0.1,0.8,-0.1,1.0,0.6,0.3,
0.8,-0.1,0.5,1.0,0.2,-0.3,0.7,0.4,0.0,0.9,0.3,0.6, 0.3,1.2,0.7,1.4,1.0,0.5,1.6,0.6,1.1,0.8,1.3,0.4,
0.7,1.2,0.2,0.5,0.9,1.4,0.1,0.8,-0.1,1.0,0.6,0.3, 0.9,0.0,0.6,1.1,0.3,-0.2,0.8,0.5,0.1,1.0,0.4,0.7,
0.2,1.1,0.6,1.3,0.9,0.4,1.5,0.5,1.0,0.7,1.2,0.3, 0.5,1.0,0.0,0.3,0.7,1.2,-0.1,0.6,-0.3,0.8,0.4,0.1,
1.1,0.2,0.8,1.3,0.5,0.0,1.0,0.7,0.3,1.2,0.6,0.9, 0.1,1.0,0.5,1.2,0.8,0.3,1.4,0.4,0.9,0.6,1.1,0.2,
0.7,1.2,0.2,0.5,0.9,1.4,0.1,0.8,-0.2,1.0,0.6,0.3, 1.0,0.1,0.7,1.2,0.4,-0.1,0.9,0.6,0.2,1.1,0.5,0.8,
0.0,0.9,0.4,1.1,0.7,0.2,1.3,0.3,0.8,0.5,1.0,0.1, 0.7,1.2,0.2,0.5,0.9,1.4,0.1,0.8,-0.1,1.0,0.6,0.3,
1.0,0.1,0.7,1.2,0.4,-0.2,0.9,0.6,0.2,1.1,0.5,0.8, 0.0,0.9,0.4,1.1,0.7,0.2,1.3,0.3,0.8,0.5,1.0,0.1,
0.7,1.2,0.2,0.5,0.9,1.4,0.1,0.8,-0.1,1.0,0.6,0.3, 1.1,0.2,0.8,1.3,0.5,0.0,1.0,0.7,0.3,1.2,0.6,0.9,
0.1,1.0,0.5,1.2,0.8,0.3,1.4,0.4,0.9,0.6,1.1,0.2, 0.7,1.2,0.2,0.5,0.9,1.4,0.1,0.8,-0.1,1.0,0.6,0.3,
0.8,-0.1,0.5,1.0,0.2,-0.3,0.7,0.4,0.0,0.9,0.3,0.6, -0.3,0.6,0.1,0.8,0.4,-0.1,1.0,0.0,0.5,0.2,0.7,-0.2
];

// ---- axis tick values ----
const mjdMajor = [60795,60800,60805,60810,60815,60820,60825];
const mjdDays = [60794,60795,60796,60797,60798,60799,60800,60801,60802,60803,60804,60805,60806,60807,60808,60809,60810,
  60811,60812,60813,60814,60815,60816,60817,60818,60819,60820,60821,60822,60823,60824,60825,60826];
const nsTicks = [-5,0,5,10,15];
const resTicks = [-2,-1,0,1,2,3,4,5];
const tauMajor = [3,4,5,6];
const tauMinor = [3.5,4.5,5.5];
const madevMajor = [-16,-15,-14,-13,-12];
const madevMinor = [-16.5,-15.5,-14.5,-13.5,-12.5,-11.5];
const tdevMajor = [-10,-9];
const tdevMinor = [-9.5,-8.5];

// ---- stability panels ----
const logTau = [3.01,3.31,3.62,3.92,4.22,4.52,4.82,5.12,5.42,5.72];
const madev = [-12.21,-12.61,-12.90,-13.18,-13.61,-13.80,-14.42,-14.64,-14.83,-15.17];
const madevTxt = ['2.2','246.2','126.3','66.0','24.8','15.8','3.8','2.3','1.5','0.7'];
const tdev = [-9.43,-9.53,-9.52,-9.50,-9.63,-9.52,-9.84,-9.75,-9.64,-9.69];
const tdevTxt = ['3.7','2.9','3.0','3.1','2.4','3.0','1.5','1.8','2.3','2.1'];
const markLog = [3.26,3.56,4.03,4.33,4.64,4.94,5.41,5.78];
const markTxt = ['h/2','h','d/8','d/4','d/2','day','ddd','wk'];
const markMadev = -16.5;
const markTdev = -9.99;

// ---- helpers ----
const toXY = (a, b) => a.map((v, i) => ({x: T0 + i * STEP, y: v}))
  .concat(b.map((v, i) => ({x: T0 + (i + 0.5) * STEP, y: v})));
const fontStr = (s, b) => (b ? 'bold ' : '') + s + 'px ' + FONT;

function partsWidth(ctx, parts, size, small) {
  let w = 0;
  parts.forEach(p => { ctx.font = fontStr((p.sub || p.sup) ? small : size, true); w += ctx.measureText(p.t).width; });
  return w;
}
function drawParts(ctx, x, y, parts, size, small, subDy, supDy) {
  ctx.textAlign = 'left'; ctx.textBaseline = 'alphabetic';
  parts.forEach(p => {
    ctx.font = fontStr((p.sub || p.sup) ? small : size, true);
    const dy = p.sub ? subDy : (p.sup ? supDy : 0);
    ctx.fillText(p.t, x, y + dy);
    x += ctx.measureText(p.t).width;
  });
}
function rotTitle(ctx, cx, cy, parts) {
  ctx.save();
  ctx.translate(cx, cy); ctx.rotate(-Math.PI / 2);
  ctx.fillStyle = '#000';
  const w = partsWidth(ctx, parts, 30, 17);
  drawParts(ctx, -w / 2, 11, parts, 30, 17, 0, -10);
  ctx.restore();
}

function axis(pos, min, max, ticksArr, fit, pad, title) {
  return {
    type: 'linear', position: pos, min: min, max: max,
    grid: {display: false, drawTicks: false},
    border: {display: false},
    afterBuildTicks: s => { s.ticks = ticksArr.map(v => ({value: v})); },
    afterFit: s => {
      if (pos === 'bottom') s.height = fit; else s.width = fit;
      s.paddingTop = 0; s.paddingBottom = 0; s.paddingLeft = 0; s.paddingRight = 0;
    },
    ticks: {font: {size: 29}, color: '#000', padding: pad, autoSkip: false, maxRotation: 0, minRotation: 0,
      callback: v => String(v).replace('-', '\u2212')},
    title: title || {display: false}
  };
}

function makeFrame(cfg) {
  return {
    id: 'frame',
    afterDatasetsDraw(chart) {
      const ctx = chart.ctx, a = chart.chartArea, xs = chart.scales.x, ys = chart.scales.y;
      ctx.save();
      ctx.strokeStyle = '#000'; ctx.lineWidth = 2;
      ctx.beginPath();
      const xt = (vals, len) => vals.forEach(v => {
        const p = xs.getPixelForValue(v);
        ctx.moveTo(p, a.bottom); ctx.lineTo(p, a.bottom + len);
        ctx.moveTo(p, a.top); ctx.lineTo(p, a.top - len);
      });
      const yt = (vals, len) => vals.forEach(v => {
        const p = ys.getPixelForValue(v);
        ctx.moveTo(a.left, p); ctx.lineTo(a.left - len, p);
        ctx.moveTo(a.right, p); ctx.lineTo(a.right + len, p);
      });
      xt(cfg.xMinor, 7); xt(cfg.xMajor, 14);
      yt(cfg.yMinor, 7); yt(cfg.yMajor, cfg.yLen);
      ctx.stroke();
      ctx.strokeRect(a.left, a.top, a.right - a.left, a.bottom - a.top);
      ctx.restore();
      if (cfg.after) { ctx.save(); cfg.after(chart, ctx, a, xs, ys); ctx.restore(); }
    }
  };
}

const baseOpts = (padding, scales) => ({
  responsive: false, devicePixelRatio: 1, animation: false, events: [],
  layout: {padding: padding, autoPadding: false},
  plugins: {legend: {display: false}, tooltip: {enabled: false}},
  scales: scales
});

const titleFont = {size: 30, weight: 'bold'};

// ---- chart 1: time differences ----
new Chart(document.getElementById('c1'), {
  type: 'scatter',
  data: {datasets: [
    {data: toXY(bluNs, bluNsB), pointStyle: 'rect', pointRadius: 2.4, backgroundColor: '#1e90ff', borderColor: '#1e90ff', borderWidth: 0, clip: false},
    {data: toXY(blkNs, blkNsB), pointStyle: 'crossRot', pointRadius: 3.7, borderColor: '#000', borderWidth: 1, clip: false}
  ]},
  options: baseOpts({left: 0, top: 125, right: 66, bottom: 0}, {
    x: axis('bottom', 60794, 60826, mjdMajor, 100, 21, {display: true, text: 'Modified Julian Date', font: titleFont, padding: {top: 0, bottom: 14}}),
    y: axis('left', -8, 15, nsTicks, 162, 26, {display: true, text: 'nanosecond', font: titleFont, padding: {top: 65, bottom: 0}})
  }),
  plugins: [makeFrame({xMajor: mjdMajor, xMinor: mjdDays, yMajor: nsTicks, yMinor: [], yLen: 12,
    after: (chart, ctx, a) => {
      ctx.fillStyle = '#000';
      drawParts(ctx, a.left + 39, a.bottom - 34, [
        {t: '_2505_NRCCPT13_NRC4PT13.PPAA5     GPS P3 (x'}, {t: 'black', sub: true},
        {t: ') ,  GPS P3 (o'}, {t: 'blue', sub: true}, {t: ')  2849Ep'}
      ], 30, 20, 6, 0);
    }})]
});

// ---- chart 2: residuals ----
new Chart(document.getElementById('c2'), {
  type: 'scatter',
  data: {datasets: [
    {data: toXY(resNs, resNsB), pointStyle: 'crossRot', pointRadius: 3.4, borderColor: '#000', borderWidth: 1, clip: false}
  ]},
  options: baseOpts({left: 0, top: 28, right: 66, bottom: 0}, {
    x: axis('bottom', 60794, 60826, mjdMajor, 102, 21, {display: true, text: 'Modified Julian Date', font: titleFont, padding: {top: 0, bottom: 16}}),
    y: axis('left', -2.02, 5.75, resTicks, 162, 26, {display: true, text: 'residuals (ns)', font: titleFont, padding: {top: 66, bottom: 0}})
  }),
  plugins: [makeFrame({xMajor: mjdMajor, xMinor: mjdDays, yMajor: resTicks, yMinor: [], yLen: 13,
    after: (chart, ctx, a) => {
      ctx.fillStyle = '#000'; ctx.font = fontStr(24.5, true); ctx.textAlign = 'left'; ctx.textBaseline = 'alphabetic';
      ctx.fillText('Max Smoothing Residual: _-1.118__4.700__1.197  Sigma= 0.787ns', a.left + 41, a.bottom - 21);
    }})]
});

// ---- chart 3: modified Allan deviation ----
new Chart(document.getElementById('c3'), {
  type: 'scatter',
  data: {datasets: [
    {data: logTau.map((v, i) => ({x: v, y: madev[i]})), pointStyle: 'circle', pointRadius: 5.5, backgroundColor: '#000', borderWidth: 0, clip: false},
    {data: markLog.map(v => ({x: v, y: markMadev})), pointStyle: 'circle', pointRadius: 4.5, backgroundColor: '#000', borderWidth: 0, clip: 0}
  ]},
  options: baseOpts({left: 0, top: 21, right: 35, bottom: 0}, {
    x: axis('bottom', 3, 6, tauMajor, 145, 20, {display: true, text: 'Averaging time, log(\u03c4) (s)', font: titleFont, padding: {top: 0, bottom: 57}}),
    y: axis('left', -16.5, -11.5, madevMajor, 169, 27)
  }),
  plugins: [makeFrame({xMajor: tauMajor, xMinor: tauMinor, yMajor: madevMajor, yMinor: madevMinor, yLen: 13,
    after: (chart, ctx, a, xs, ys) => {
      ctx.fillStyle = '#000'; ctx.font = fontStr(17, true); ctx.textAlign = 'left'; ctx.textBaseline = 'alphabetic';
      ctx.fillText('\u03c4 = 1031s', a.left + 45, a.top + 31);
      ctx.fillStyle = '#ff0000'; ctx.font = fontStr(19, true); ctx.textAlign = 'center';
      madevTxt.forEach((t, i) => {
        let px = xs.getPixelForValue(logTau[i]);
        const w = ctx.measureText(t).width;
        if (px - w / 2 < a.left + 1) px = a.left + 1 + w / 2;
        ctx.fillText(t, px, ys.getPixelForValue(madev[i]) - 9);
      });
      markTxt.forEach((t, i) => ctx.fillText(t, xs.getPixelForValue(markLog[i]), ys.getPixelForValue(markMadev) - 9));
      rotTitle(ctx, 72, (a.top + a.bottom) / 2, [{t: 'Modified Allan Deviation (10'}, {t: '-15', sup: true}, {t: ')'}]);
    }})]
});

// ---- chart 4: time deviation ----
new Chart(document.getElementById('c4'), {
  type: 'scatter',
  data: {datasets: [
    {data: logTau.map((v, i) => ({x: v, y: tdev[i]})), pointStyle: 'circle', pointRadius: 5.5, backgroundColor: '#000', borderWidth: 0, clip: false},
    {data: markLog.map(v => ({x: v, y: markTdev})), pointStyle: 'circle', pointRadius: 5.5, backgroundColor: '#000', borderWidth: 0, clip: false}
  ]},
  options: baseOpts({left: 0, top: 21, right: 95, bottom: 0}, {
    x: axis('bottom', 2.75, 6, tauMajor, 145, 20, {display: true, text: 'Averaging time, log(\u03c4) (s)', font: titleFont, padding: {top: 0, bottom: 57}}),
    y: axis('left', -10, -8.5, tdevMajor, 133, 27)
  }),
  plugins: [makeFrame({xMajor: tauMajor, xMinor: tauMinor, yMajor: tdevMajor, yMinor: tdevMinor, yLen: 13,
    after: (chart, ctx, a, xs, ys) => {
      ctx.fillStyle = '#ff0000'; ctx.textAlign = 'center'; ctx.textBaseline = 'alphabetic';
      ctx.font = fontStr(16, true);
      tdevTxt.forEach((t, i) => ctx.fillText(t, xs.getPixelForValue(logTau[i]), ys.getPixelForValue(tdev[i]) - 30));
      ctx.font = fontStr(19, true);
      markTxt.forEach((t, i) => ctx.fillText(t, xs.getPixelForValue(markLog[i]), ys.getPixelForValue(-10) - 29));
      rotTitle(ctx, 38, (a.top + a.bottom) / 2, [{t: 'Time deviation (10'}, {t: '-10', sup: true}, {t: ' s)'}]);
    }})]
});
</script>
</body></html>
